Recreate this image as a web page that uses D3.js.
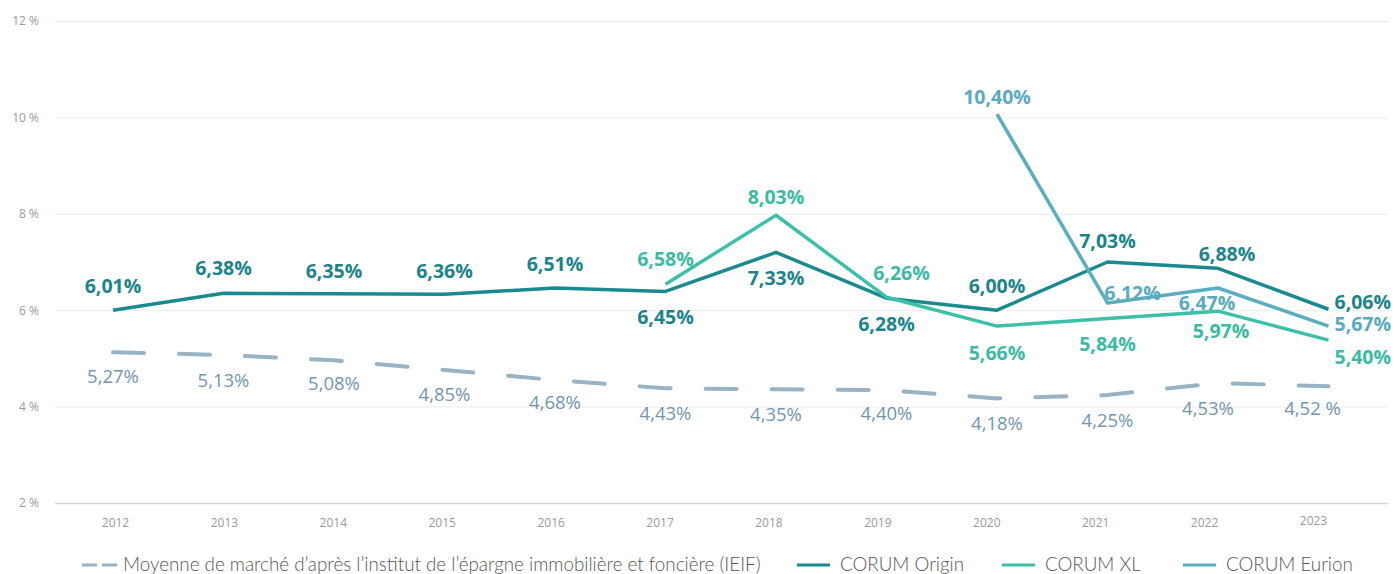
<!DOCTYPE html>
<html>
<head>
<meta charset="utf-8">
<script src="https://cdn.jsdelivr.net/npm/d3@7"></script>
<style>
  body { margin: 0; background: #fff; }
  svg { display: block; }
  .grid .tick line { stroke: #ececec; }
  .grid .tick text { fill: #9a9a9a; font: 12px "Open Sans", sans-serif; }
  .xaxis .tick text { fill: #9a9a9a; font: 12px "Open Sans", sans-serif; }
  .val { font: 700 19.5px "Open Sans", sans-serif; }
  .ieif-val { font: 400 18.5px "Open Sans", sans-serif; fill: #7495af; }
  .legend text { font: 300 18.8px "Lato", sans-serif; fill: #555; }
</style>
</head>
<body>
<svg></svg>
<script>
const years = [2012, 2013, 2014, 2015, 2016, 2017, 2018, 2019, 2020, 2021, 2022, 2023];

// values as drawn on the chart
const ieifValues = [5.13, 5.07, 4.96, 4.76, 4.55, 4.38, 4.36, 4.34, 4.17, 4.24, 4.49, 4.42];
const ieifLabels = ['5,27%', '5,13%', '5,08%', '4,85%', '4,68%', '4,43%', '4,35%', '4,40%', '4,18%', '4,25%', '4,53%', '4,52 %'];

const originValues = [6.0, 6.35, 6.34, 6.33, 6.46, 6.39, 7.2, 6.25, 6.0, 7.0, 6.87, 6.02];
const originLabels = ['6,01%', '6,38%', '6,35%', '6,36%', '6,51%', '6,45%', '7,33%', '6,28%', '6,00%', '7,03%', '6,88%', '6,06%'];

const xlYears = [2017, 2018, 2019, 2020, 2021, 2022, 2023];
const xlValues = [6.54, 7.97, 6.27, 5.67, 5.83, 5.98, 5.38];
const xlLabels = ['6,58%', '8,03%', '6,26%', '5,66%', '5,84%', '5,97%', '5,40%'];

const eurionYears = [2020, 2021, 2022, 2023];
const eurionValues = [10.07, 6.15, 6.46, 5.67];
const eurionLabels = ['10,40%', '6,12%', '6,47%', '5,67%'];

const yTicks = [2, 4, 6, 8, 10, 12];

// label placement relative to each point [dx, dy, anchor]
const ieifPlace = [[0,31],[0,32],[0,30],[0,31],[0,29],[0,32],[0,32],[0,30],[0,32],[0,32],[-10,32],[-16,29]];
const originPlace = [[0,-17],[0,-18],[0,-16],[0,-16],[0,-17],[0,33],[0,33],[0,33],[0,-17],[0,-14],[9,-7],[6,0,'start']];
const xlPlace = [[0,-18],[0,-11],[15,-17],[0,34],[0,33],[3,27],[6,24,'start']];
const eurionPlace = [[0,-10],[25,-3],[-11,22],[6,5,'start']];

const width = 1397, height = 574;
const colors = {ieif: '#98b3c4', origin: '#1a8a90', xl: '#3cc0a8', eurion: '#5badc0'};
const labelColors = {origin: '#1b848b', xl: '#3bbba2', eurion: '#5aabbf'};

const svg = d3.select('svg').attr('width', width).attr('height', height);

const x = d3.scalePoint().domain(years).range([113, 1328.5]);
const xAxisScale = d3.scalePoint().domain(years).range([115, 1313]);
const y = d3.scaleLinear().domain([2, 12]).range([503, 21]);

// grid + y labels
svg.append('g')
  .attr('class', 'grid')
  .attr('transform', 'translate(55,0)')
  .call(d3.axisLeft(y)
    .tickValues(yTicks)
    .tickFormat(d => d + ' %')
    .tickSize(-(1388 - 55))
    .tickPadding(16))
  .call(g => g.select('.domain').remove())
  .call(g => g.selectAll('.tick line').filter(d => d === 2).style('stroke', '#d4d4d4').style('stroke-width', 1.5));

svg.append('g')
  .attr('class', 'xaxis')
  .attr('transform', 'translate(0,503)')
  .call(d3.axisBottom(xAxisScale).tickSize(0).tickPadding(15))
  .call(g => g.select('.domain').remove())
  .call(g => g.selectAll('.tick text').filter(d => d === 2023).attr('dy', '0.55em'));

const line = d3.line()
  .x(d => x(d[0]))
  .y(d => y(d[1]));

const zip = (ys, vs) => ys.map((yr, i) => [yr, vs[i]]);

const ieifData = zip(years, ieifValues);
const originData = zip(years, originValues);
const xlData = zip(xlYears, xlValues);
const eurionData = zip(eurionYears, eurionValues);

svg.append('path')
  .attr('d', line(ieifData))
  .attr('fill', 'none')
  .attr('stroke', colors.ieif)
  .attr('stroke-width', 4)
  .attr('stroke-linecap', 'round')
  .attr('stroke-dasharray', '31,35');

[[originData, colors.origin], [eurionData, colors.eurion], [xlData, colors.xl]].forEach(([data, c]) => {
  svg.append('path')
    .attr('d', line(data))
    .attr('fill', 'none')
    .attr('stroke', c)
    .attr('stroke-width', 3.5)
    .attr('stroke-linejoin', 'round');
});

const drawLabels = (data, labels, place, cls, color) => {
  svg.append('g').selectAll('text')
    .data(data)
    .join('text')
    .attr('class', cls)
    .attr('x', (d, i) => x(d[0]) + place[i][0])
    .attr('y', (d, i) => y(d[1]) + place[i][1])
    .attr('text-anchor', (d, i) => place[i][2] || 'middle')
    .attr('fill', color)
    .text((d, i) => labels[i]);
};

drawLabels(ieifData, ieifLabels, ieifPlace, 'ieif-val', null);
drawLabels(originData, originLabels, originPlace, 'val', labelColors.origin);
drawLabels(xlData, xlLabels, xlPlace, 'val', labelColors.xl);
drawLabels(eurionData, eurionLabels, eurionPlace, 'val', labelColors.eurion);

// legend
const legendItems = [
  {name: 'Moyenne de marché d’après l’institut de l’épargne immobilière et foncière (IEIF)', color: colors.ieif, dashed: true, x: 82},
  {name: 'CORUM Origin', color: colors.origin, x: 797},
  {name: 'CORUM XL', color: colors.xl, x: 1002},
  {name: 'CORUM Eurion', color: colors.eurion, x: 1183}
];

const legend = svg.append('g').attr('class', 'legend');
legendItems.forEach(it => {
  const g = legend.append('g').attr('transform', `translate(${it.x},565)`);
  g.append('line')
    .attr('x1', 0).attr('x2', it.dashed ? 36 : 33)
    .attr('stroke', it.color)
    .attr('stroke-width', 3)
    .attr('stroke-dasharray', it.dashed ? '15,5' : null);
  g.append('text')
    .attr('x', it.dashed ? 41 : 43)
    .attr('y', 6)
    .text(it.name);
});
</script>
</body>
</html>
